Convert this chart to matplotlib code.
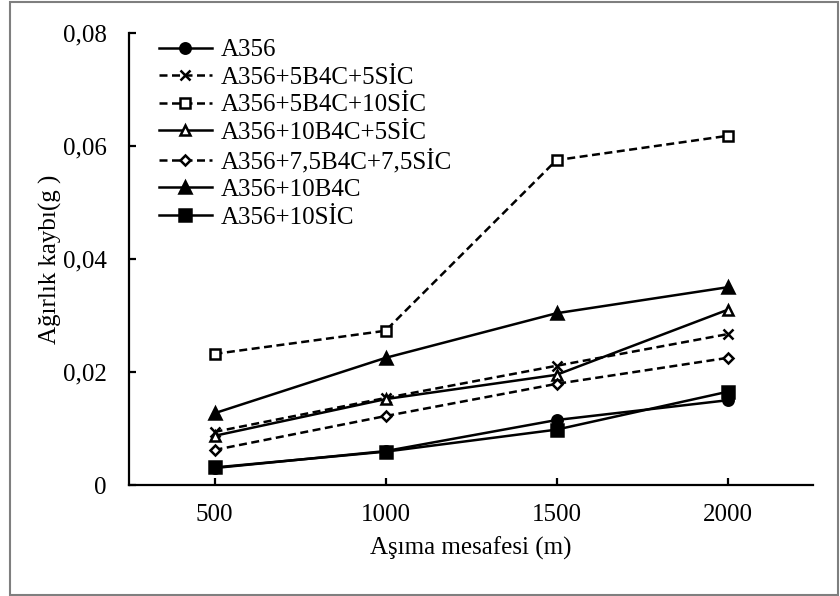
import matplotlib
matplotlib.use("Agg")
import matplotlib.pyplot as plt
from matplotlib.patches import Rectangle

plt.rcParams['font.family'] = ['Liberation Serif', 'DejaVu Serif']

distances = ["500", "1000", "1500", "2000"]
a356 = [0.0030, 0.0060, 0.0115, 0.0150]
b5s5 = [0.0094, 0.0154, 0.0211, 0.0267]
b5s10 = [0.0232, 0.0273, 0.0575, 0.0618]
b10s5 = [0.0087, 0.0152, 0.0195, 0.0310]
b75s75 = [0.0062, 0.0122, 0.0179, 0.0225]
b10 = [0.0127, 0.0225, 0.0304, 0.0350]
s10 = [0.0031, 0.0059, 0.0098, 0.0165]

labels = ["A356", "A356+5B4C+5SİC", "A356+5B4C+10SİC", "A356+10B4C+5SİC",
          "A356+7,5B4C+7,5SİC", "A356+10B4C", "A356+10SİC"]
yticks = [0, 0.02, 0.04, 0.06, 0.08]
yticklabels = ["0", "0,02", "0,04", "0,06", "0,08"]

FS = 18

fig = plt.figure(figsize=(8.4, 5.96), dpi=100)
ax = fig.add_axes([129/840, 1 - 485/596, (813 - 129)/840, (485 - 33)/596])

x = list(range(1, len(distances) + 1))
dash = (0, (3.2, 1.8))
lw = 1.8
styles = [
    (a356, '-', 'o', 'black', 7.5),
    (b5s5, dash, 'x', 'black', 7),
    (b5s10, dash, 's', 'white', 7),
    (b10s5, '-', '^', 'white', 7.5),
    (b75s75, dash, 'D', 'white', 5.5),
    (b10, '-', '^', 'black', 8.5),
    (s10, '-', 's', 'black', 8),
]
for (vals, ls, mk, fc, ms), lab in zip(styles, labels):
    ax.plot(x, vals, linestyle=ls, marker=mk, color='black', markerfacecolor=fc,
            markeredgecolor='black', markeredgewidth=1.8, markersize=ms,
            linewidth=lw, label=lab)

ax.set_xlim(0.5, 4.5)
ax.set_ylim(0, 0.08)
ax.set_xticks(x)
ax.set_xticklabels(distances)
ax.set_yticks(yticks)
ax.set_yticklabels(yticklabels)
for s in ['top', 'right']:
    ax.spines[s].set_visible(False)
for s in ['left', 'bottom']:
    ax.spines[s].set_linewidth(1.6)
ax.tick_params(axis='both', direction='in', length=5, width=1.6, labelsize=FS)
ax.tick_params(axis='y', pad=16)
ax.tick_params(axis='x', pad=14)

ax.set_xlabel("Aşıma mesafesi (m)", fontsize=FS, labelpad=7)
ax.set_ylabel("Ağırlık kaybı(g )", fontsize=FS, labelpad=1)

ax.legend(loc='upper left', bbox_to_anchor=(0.022, 1.02), frameon=False,
          fontsize=FS, handlelength=2.1, handletextpad=0.35,
          labelspacing=0.2, borderaxespad=0.2)

fig.patches.append(Rectangle((10/840, 1/596), 828/840, 593/596, transform=fig.transFigure,
                             fill=False, edgecolor='#7f7f7f', linewidth=1.5))

fig.savefig("out.png", dpi=100)
